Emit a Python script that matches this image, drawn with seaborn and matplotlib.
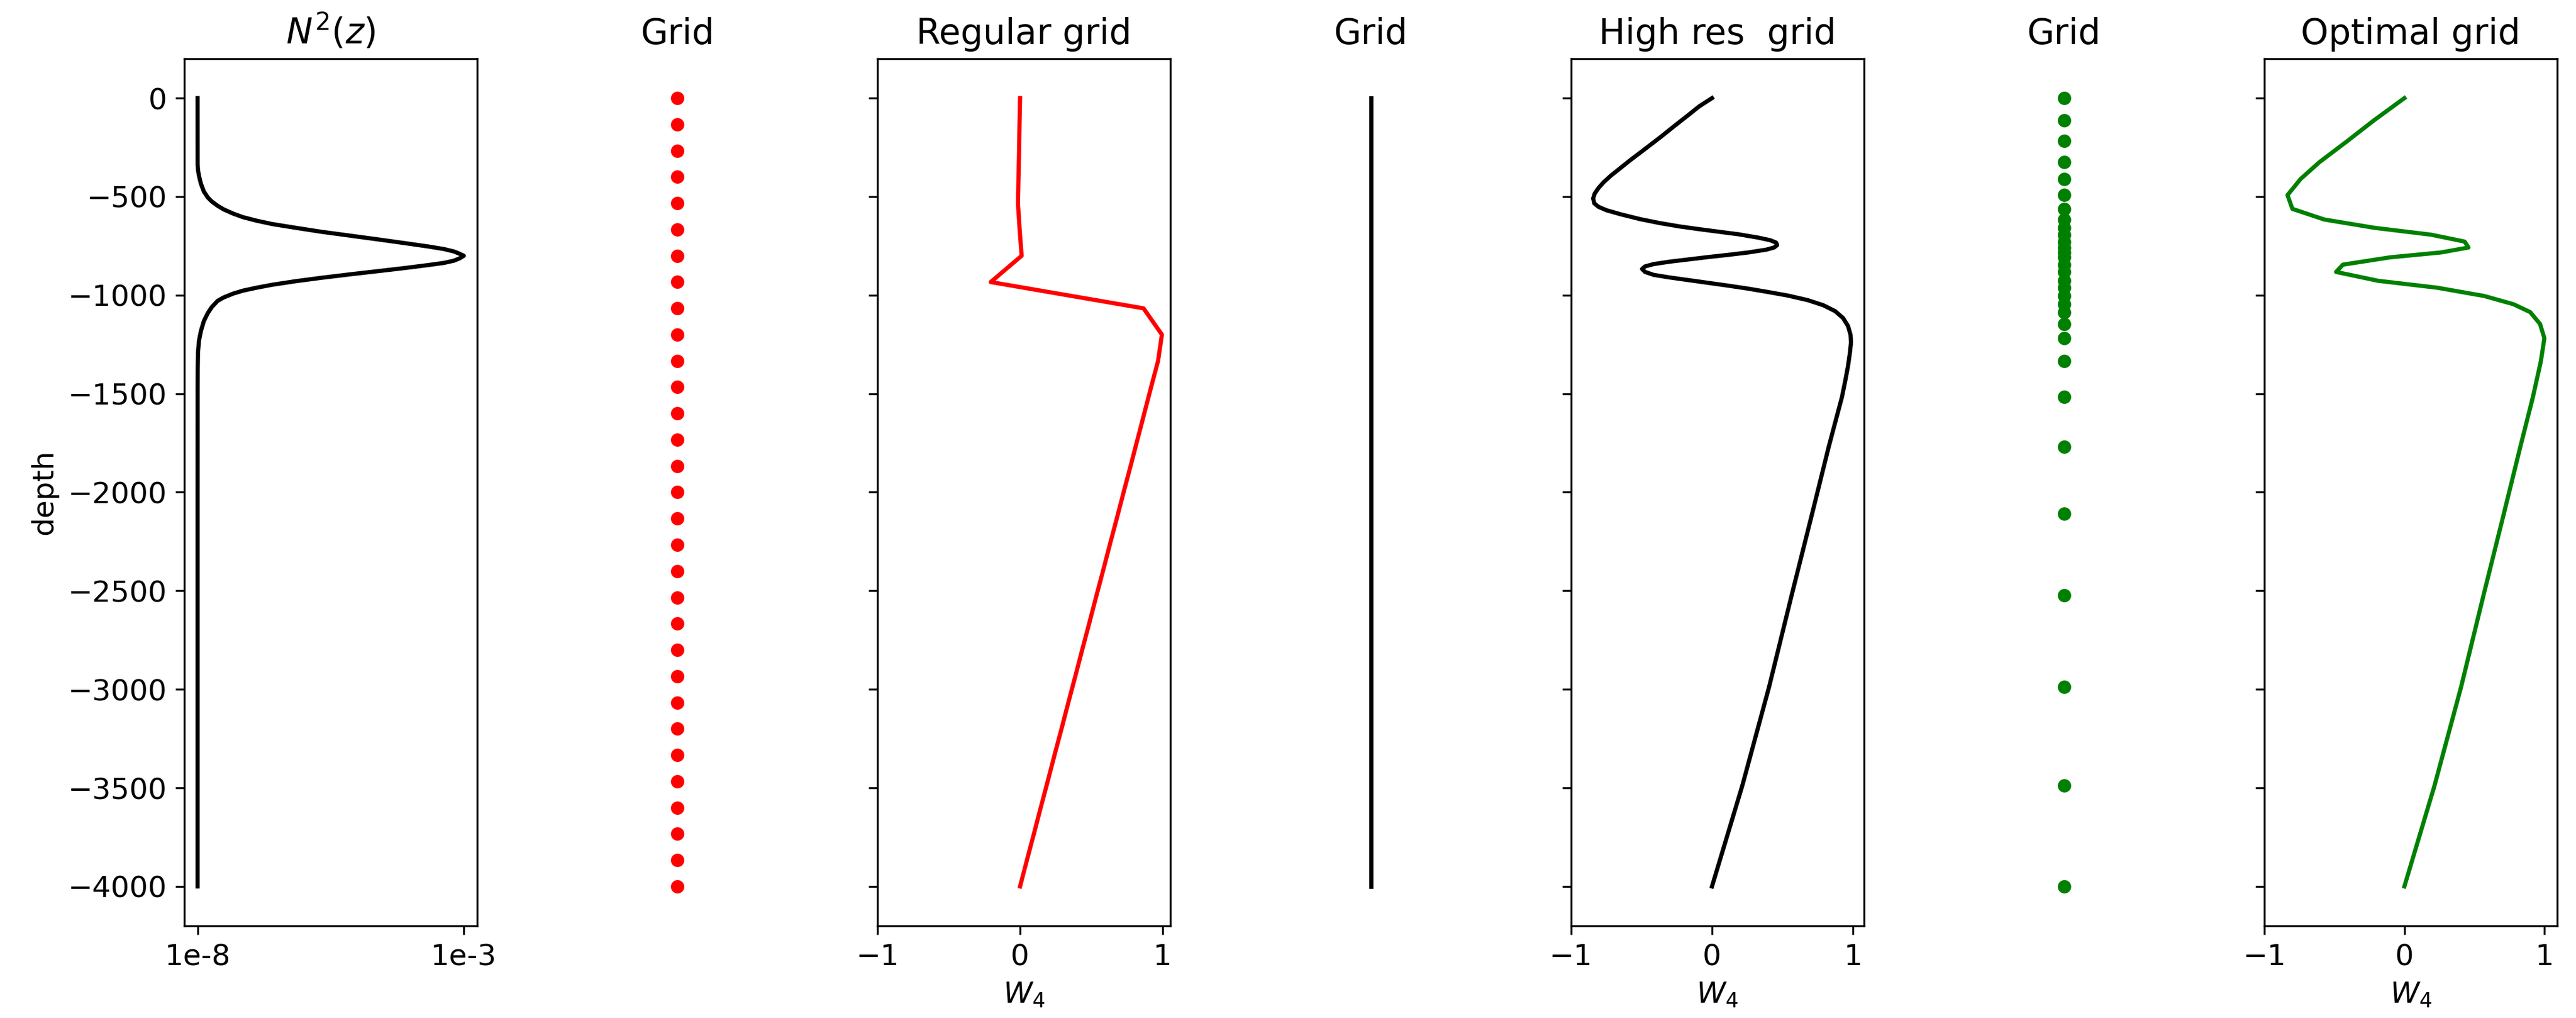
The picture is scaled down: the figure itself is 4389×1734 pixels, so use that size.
import numpy as np
import seaborn as sns
from matplotlib import pyplot as plt

# stratification profile N^2(z), values in units of 1e-3
N2_Z = [0, -200, -335, -365, -395, -435, -474, -504, -524, -546, -564, -586, -604,
        -622, -639, -658, -678, -698, -718, -736, -753, -766, -778, -790, -800,
        -813, -825, -836, -847, -862, -877, -894, -912, -929, -947, -962, -977,
        -992, -1012, -1029, -1061, -1091, -1131, -1181, -1230, -1290, -1370, -1469,
        -2000, -4000]
N2_VAL = [0.00001, 0.0001, 0.0002, 0.0015, 0.0053, 0.0126, 0.0236, 0.0383, 0.0529,
          0.075, 0.097, 0.1336, 0.1703, 0.2217, 0.2804, 0.3684, 0.4637, 0.5738,
          0.6838, 0.7792, 0.8672, 0.9259, 0.9626, 0.9846, 1.0, 0.9846, 0.9626,
          0.9259, 0.8672, 0.7792, 0.6838, 0.5738, 0.4637, 0.3684, 0.2804, 0.2217,
          0.1703, 0.1336, 0.097, 0.075, 0.0529, 0.0383, 0.0236, 0.0126, 0.0053,
          0.0015, 0.0005, 0.0002, 0.00005, 0.00001]
N2_TICKS = [1e-8, 1e-3]
N2_TICKLABELS = ['1e-8', '1e-3']

# regular grid and W4 on it
REG_Z = [0, -133.3, -266.7, -400, -533.3, -666.7, -800, -933.3, -1066.7, -1200,
         -1333.3, -1466.7, -1600, -1733.3, -1866.7, -2000, -2133.3, -2266.7, -2400,
         -2533.3, -2666.7, -2800, -2933.3, -3066.7, -3200, -3333.3, -3466.7, -3600,
         -3733.3, -3866.7, -4000]
REG_W = [0.0, -0.004, -0.007, -0.011, -0.015, -0.003, 0.011, -0.206, 0.867, 0.996,
         0.969, 0.92, 0.872, 0.824, 0.776, 0.727, 0.679, 0.63, 0.582, 0.533, 0.485,
         0.436, 0.388, 0.339, 0.291, 0.242, 0.194, 0.145, 0.097, 0.048, 0.0]

# high resolution solution
HR_Z = [0, -42, -82, -141, -201, -258, -315, -355, -395, -427, -455, -484, -509,
        -534, -552, -569, -589, -614, -634, -651, -665, -678, -691, -708, -721,
        -733, -746, -758, -769, -783, -795, -806, -818, -830, -842, -854, -867,
        -882, -897, -910, -924, -938, -952, -967, -984, -1002, -1025, -1051, -1081,
        -1116, -1156, -1201, -1240, -1290, -1360, -1429, -1517, -1770, -2110, -2523,
        -2988, -3489, -4000]
HR_W = [0.0, -0.091, -0.161, -0.266, -0.371, -0.475, -0.58, -0.65, -0.72, -0.769,
        -0.804, -0.832, -0.843, -0.835, -0.804, -0.748, -0.65, -0.51, -0.371, -0.231,
        -0.091, 0.049, 0.189, 0.329, 0.413, 0.455, 0.462, 0.441, 0.385, 0.259, 0.119,
        -0.021, -0.161, -0.301, -0.413, -0.475, -0.496, -0.475, -0.413, -0.301,
        -0.161, -0.021, 0.119, 0.259, 0.399, 0.539, 0.679, 0.79, 0.874, 0.93, 0.965,
        0.983, 0.986, 0.979, 0.965, 0.947, 0.922, 0.828, 0.71, 0.565, 0.405, 0.215,
        0.0]

# optimal grid and W4 on it
OPT_Z = [0, -112, -218, -325, -410, -492, -562, -616, -658, -693, -728, -758, -783,
         -808, -845, -882, -927, -962, -1004, -1046, -1086, -1146, -1218, -1335, -1517,
         -1770, -2110, -2523, -2988, -3489, -4000]
OPT_W = [0.0, -0.216, -0.408, -0.607, -0.741, -0.835, -0.80, -0.572, -0.215, 0.191,
         0.430, 0.458, 0.262, -0.103, -0.439, -0.488, -0.187, 0.234, 0.570, 0.780,
         0.899, 0.969, 1.0, 0.975, 0.918, 0.828, 0.71, 0.565, 0.405, 0.215, 0.0]

TITLES = ['$N^2(z)$', 'Grid', 'Regular grid', 'Grid', 'High res  grid', 'Grid',
          'Optimal grid']

plt.rcParams['font.family'] = ['DejaVu Sans']
plt.rcParams['font.size'] = 12
LW = 1.7

fig, axes = plt.subplots(1, 7, sharey=True, figsize=(4389 / 300, 1734 / 300), dpi=300)
fig.subplots_adjust(left=314 / 4389, right=4357 / 4389, top=1 - 100 / 1734,
                    bottom=1 - 1577 / 1734, wspace=0.184)

n2 = np.array(N2_VAL) * 1e-3
sns.lineplot(x=n2, y=N2_Z, sort=False, estimator=None, color='black', lw=LW, ax=axes[0])
axes[0].set_xticks(N2_TICKS, N2_TICKLABELS)
axes[0].set_ylabel('depth')

sns.scatterplot(x=np.zeros(len(REG_Z)), y=REG_Z, color='red', s=30, linewidth=0, ax=axes[1])
sns.lineplot(x=REG_W, y=REG_Z, sort=False, estimator=None, color='red', lw=LW, ax=axes[2])

sns.lineplot(x=np.zeros(len(HR_Z)), y=HR_Z, sort=False, estimator=None, color='black',
             lw=LW, ax=axes[3])
sns.lineplot(x=HR_W, y=HR_Z, sort=False, estimator=None, color='black', lw=LW, ax=axes[4])

sns.scatterplot(x=np.zeros(len(OPT_Z)), y=OPT_Z, color='green', s=30, linewidth=0, ax=axes[5])
sns.lineplot(x=OPT_W, y=OPT_Z, sort=False, estimator=None, color='green', lw=LW, ax=axes[6])

for i, ax in enumerate(axes):
    ax.set_title(TITLES[i], fontsize=14.4)
    if i in (1, 3, 5):
        ax.axis('off')
    elif i > 0:
        ax.set_xlim(left=-1)
        ax.set_xlabel('$W_4$')

fig.savefig('out.png', dpi=300)
